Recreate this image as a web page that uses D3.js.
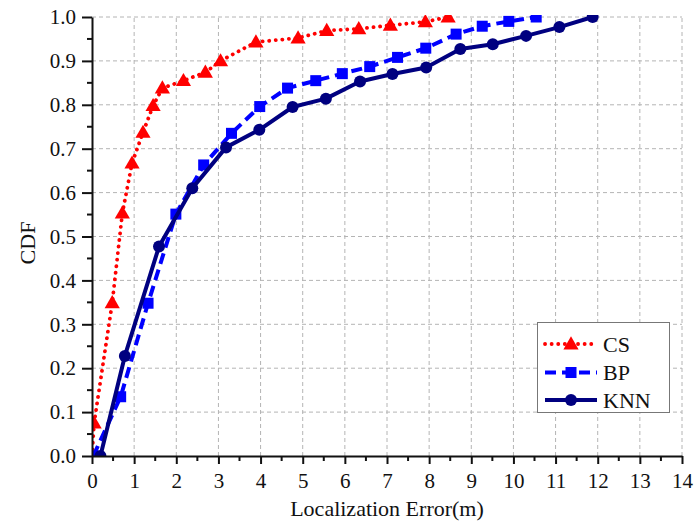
<!DOCTYPE html>
<html lang="en">
<head>
<meta charset="utf-8">
<title>CDF</title>
<script src="https://cdn.jsdelivr.net/npm/d3@7"></script>
<style>
body { margin: 0; background: #fff; }
text { font-family: "Liberation Serif", "Times New Roman", serif; fill: #111; }
.grid line { stroke: #b4b4b4; stroke-dasharray: 4,3; stroke-width: 1; }
</style>
</head>
<body>
<div id="chart"></div>
<script>
// data
var csX = [0, 0.05, 0.48, 0.72, 0.95, 1.21, 1.45, 1.67, 2.17, 2.69, 3.05, 3.89, 4.89, 5.57, 6.33, 7.08, 7.91, 8.45];
var csY = [0, 0.075, 0.349, 0.553, 0.667, 0.737, 0.798, 0.838, 0.855, 0.874, 0.900, 0.943, 0.952, 0.969, 0.973, 0.981, 0.989, 1.0];

var bpX = [0.03, 0.68, 1.33, 1.99, 2.65, 3.31, 3.98, 4.64, 5.31, 5.94, 6.59, 7.25, 7.92, 8.64, 9.26, 9.89, 10.54];
var bpY = [0.0, 0.135, 0.348, 0.551, 0.663, 0.735, 0.796, 0.838, 0.855, 0.871, 0.887, 0.908, 0.929, 0.961, 0.979, 0.990, 1.0];

var knnX = [0.2, 0.78, 1.59, 2.38, 3.18, 3.97, 4.76, 5.55, 6.36, 7.13, 7.93, 8.74, 9.51, 10.3, 11.09, 11.88];
var knnY = [0.0, 0.228, 0.477, 0.61, 0.703, 0.743, 0.795, 0.814, 0.853, 0.870, 0.885, 0.927, 0.938, 0.957, 0.977, 1.0];

var xTicks = d3.range(0, 15, 1);
var yTicks = d3.range(0, 11, 1).map(d => d / 10);
var seriesNames = ["CS", "BP", "KNN"];

var w = 695, h = 525;
var m = {left: 92, right: 13, top: 17, bottom: 69};

var svg = d3.select("#chart").append("svg")
  .attr("width", w).attr("height", h);

var x = d3.scaleLinear().domain([0, 14]).range([m.left, w - m.right]);
var y = d3.scaleLinear().domain([0, 1]).range([h - m.bottom, m.top]);

// grid
var grid = svg.append("g").attr("class", "grid");
grid.selectAll(".gx").data(xTicks.slice(1)).enter().append("line")
  .attr("x1", d => x(d)).attr("x2", d => x(d))
  .attr("y1", y(0)).attr("y2", y(1));
grid.selectAll(".gy").data(yTicks.slice(1)).enter().append("line")
  .attr("x1", x(0)).attr("x2", x(14))
  .attr("y1", d => y(d)).attr("y2", d => y(d));

svg.append("defs").append("clipPath").attr("id", "clip")
  .append("rect").attr("x", x(0)).attr("y", y(1) - 2)
  .attr("width", x(14) - x(0)).attr("height", y(0) - y(1) + 2);

var plot = svg.append("g").attr("clip-path", "url(#clip)");

var line = d3.line().x(d => x(d[0])).y(d => y(d[1]));
var tri = d3.symbol().type(d3.symbolTriangle).size(100);

var styles = {
  CS:  {color: "#ff0000", dash: "0.1,6.5", cap: "round", width: 3.8},
  BP:  {color: "#0000ff", dash: "11,6", cap: "butt", width: 4},
  KNN: {color: "#000080", dash: null, cap: "butt", width: 4}
};

function drawSeries(name, xs, ys) {
  var pts = xs.map((v, i) => [v, ys[i]]);
  var s = styles[name];
  plot.append("path").datum(pts)
    .attr("d", line)
    .attr("fill", "none")
    .attr("stroke", s.color)
    .attr("stroke-width", s.width)
    .attr("stroke-linecap", s.cap)
    .attr("stroke-linejoin", "round")
    .attr("stroke-dasharray", s.dash);
  drawMarkers(plot, name, pts.map(p => [x(p[0]), y(p[1])]));
}

function drawMarkers(g, name, pxs) {
  var s = styles[name];
  if (name === "CS") {
    g.selectAll(null).data(pxs).enter().append("path")
      .attr("d", tri).attr("fill", s.color)
      .attr("transform", d => `translate(${d[0]},${d[1] + 1})`);
  } else if (name === "BP") {
    g.selectAll(null).data(pxs).enter().append("rect")
      .attr("x", d => d[0] - 5.5).attr("y", d => d[1] - 5.5)
      .attr("width", 11).attr("height", 11).attr("fill", s.color);
  } else {
    g.selectAll(null).data(pxs).enter().append("circle")
      .attr("cx", d => d[0]).attr("cy", d => d[1])
      .attr("r", 6).attr("fill", s.color);
  }
}

drawSeries("CS", csX, csY);
drawSeries("BP", bpX, bpY);
drawSeries("KNN", knnX, knnY);

// axes
var xAxis = svg.append("g").attr("transform", `translate(0,${y(0)})`)
  .call(d3.axisBottom(x).tickValues(xTicks).tickSize(8).tickSizeOuter(0).tickPadding(9));
var yAxis = svg.append("g").attr("transform", `translate(${x(0)},0)`)
  .call(d3.axisLeft(y).tickValues(yTicks).tickFormat(d3.format(".1f")).tickSize(10).tickSizeOuter(0).tickPadding(6));

[xAxis, yAxis].forEach(a => {
  a.select(".domain").attr("stroke", "#111").attr("stroke-width", 2);
  a.selectAll(".tick line").attr("stroke", "#111").attr("stroke-width", 2);
  a.selectAll("text").attr("font-size", 21).attr("font-family", "Liberation Serif").attr("fill", "#111");
});

// minor ticks
svg.append("g").selectAll("line").data(d3.range(0.5, 14, 1)).enter().append("line")
  .attr("x1", d => x(d)).attr("x2", d => x(d))
  .attr("y1", y(0)).attr("y2", y(0) + 5)
  .attr("stroke", "#111").attr("stroke-width", 2);
svg.append("g").selectAll("line").data(d3.range(0.05, 1, 0.1)).enter().append("line")
  .attr("x1", x(0) - 5).attr("x2", x(0))
  .attr("y1", d => y(d)).attr("y2", d => y(d))
  .attr("stroke", "#111").attr("stroke-width", 2);

// titles
svg.append("text").attr("x", (x(0) + x(14)) / 2).attr("y", 516)
  .attr("text-anchor", "middle").attr("font-size", 22)
  .text("Localization Error(m)");
svg.append("text").attr("transform", "translate(35,243) rotate(-90)")
  .attr("text-anchor", "middle").attr("font-size", 22)
  .text("CDF");

// legend
var lg = svg.append("g");
lg.append("rect").attr("x", 537.5).attr("y", 322.5).attr("width", 132).attr("height", 90)
  .attr("fill", "#fff").attr("stroke", "#777").attr("stroke-width", 1);
var legY = [344, 372.5, 400];
seriesNames.forEach((name, i) => {
  var s = styles[name];
  var ly = legY[i];
  lg.append("line").attr("x1", 545).attr("x2", 597).attr("y1", ly).attr("y2", ly)
    .attr("stroke", s.color).attr("stroke-width", s.width)
    .attr("stroke-linecap", s.cap).attr("stroke-dasharray", s.dash);
  drawMarkers(lg, name, [[571, ly]]);
  lg.append("text").attr("x", 603).attr("y", ly + 7.5).attr("font-size", 22).text(name);
});
</script>
</body>
</html>
